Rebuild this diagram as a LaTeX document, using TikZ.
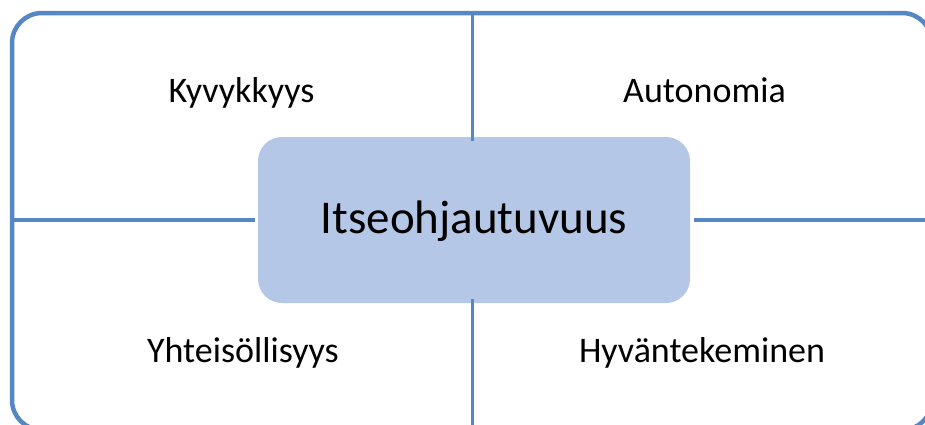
\documentclass[tikz,border=0pt]{standalone}
\usepackage{fontspec}
\setmainfont{Carlito}
\definecolor{frameblue}{HTML}{5587C4}
\definecolor{corefill}{HTML}{B4C7E7}
\begin{document}
\begin{tikzpicture}[x=1pt,y=-1pt,
  frameline/.style={draw=frameblue,line width=4.5pt},
  spoke/.style={draw=frameblue,line width=3.5pt},
  corebox/.style={fill=corefill,draw=none,rounded corners=24pt,
    minimum width=432pt,minimum height=166pt,inner sep=0pt},
  quadlabel/.style={anchor=base,inner sep=0pt,font=\fontsize{36}{43}\selectfont}]
  \useasboundingbox (0,0) rectangle (925,424);
  \clip (0,0) rectangle (925,424);
  % outer frame; its right and bottom sides lie just past the page
  \draw[frameline,rounded corners=30pt] (12,13) rectangle (932,430);
  % central concept
  \node[corebox] (core) at (474,220) {};
  \node[anchor=base,inner sep=0pt,font=\fontsize{47}{56}\selectfont] (coretext) at (474,233) {Itseohjautuvuus};
  % points on the frame where the spokes end
  \coordinate (ftop) at (472.5,13);
  \coordinate (fbot) at (472.5,430);
  \coordinate (fleft) at (12,220);
  \coordinate (fright) at (932,220);
  % spokes dividing the frame into quadrants
  \draw[spoke] (ftop) -- ([yshift=-4pt]core.north -| ftop);
  \draw[spoke] ([yshift=4pt]core.south -| fbot) -- (fbot);
  \draw[spoke] (fleft) -- ([xshift=-3pt]core.west);
  \draw[spoke] ([xshift=4pt]core.east) -- (fright);
  % quadrant labels
  \node[quadlabel] (q1) at (241.5,102) {Kyvykkyys};
  \node[quadlabel] (q2) at (704.5,102) {Autonomia};
  \node[quadlabel] (q3) at (243,362) {Yhteisöllisyys};
  \node[quadlabel] (q4) at (702,362) {Hyväntekeminen};
\end{tikzpicture}
\end{document}
